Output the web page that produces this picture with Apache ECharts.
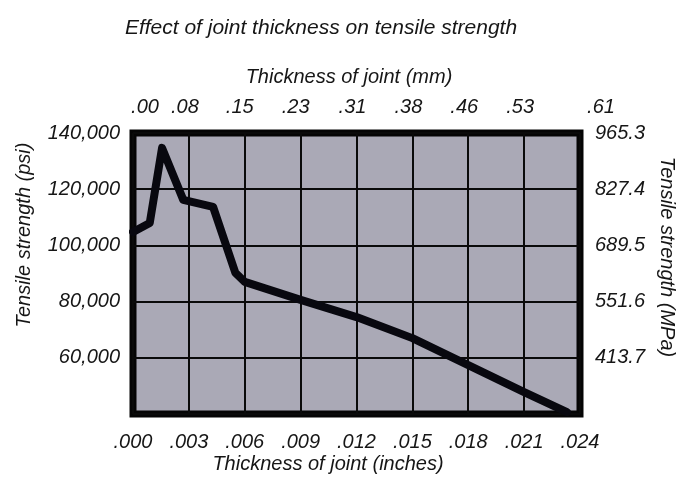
<!DOCTYPE html>
<html>
<head>
<meta charset="utf-8">
<script src="https://cdn.jsdelivr.net/npm/echarts@6/dist/echarts.min.js"></script>
<style>
html,body{margin:0;padding:0;background:#fff;}
#chart{width:682px;height:488px;}
</style>
</head>
<body>
<div id="chart"></div>
<script>
// ---- data ----
var thicknessIn = [0, 0.0009, 0.00156, 0.0027, 0.0043, 0.0055, 0.0060, 0.0090, 0.0120, 0.0150, 0.0180, 0.0210, 0.0233];
var strengthPsi = [104800, 108000, 134700, 116200, 113700, 90200, 87000, 80600, 74500, 67000, 57400, 47800, 40700];
var inchLabels = ['.000', '.003', '.006', '.009', '.012', '.015', '.018', '.021', '.024'];
var mmLabels = ['.00', '.08', '.15', '.23', '.31', '.38', '.46', '.53', '.61'];
var psiLabels = ['', '60,000', '80,000', '100,000', '120,000', '140,000'];
var mpaLabels = ['', '413.7', '551.6', '689.5', '827.4', '965.3'];
var titleText = 'Effect of joint thickness on tensile strength';
var topAxisName = 'Thickness of joint (mm)';
var bottomAxisName = 'Thickness of joint (inches)';
var leftAxisName = 'Tensile strength (psi)';
var rightAxisName = 'Tensile strength (MPa)';

var seriesData = thicknessIn.map(function (x, i) { return [x, strengthPsi[i]]; });

// ---- styles ----
var FONT = 'Liberation Sans';
var TXT = '#161616';
var xStep = 0.003, yMin = 40000, yStep = 20000;
var topLabelShift = [12, -4, -5, -5, -4, -4, -4, -4, 21]; // px horizontal nudge per top label

var topRich = {};
topLabelShift.forEach(function (s, k) {
  topRich['p' + k] = {
    padding: s >= 0 ? [0, 0, 0, 2 * s] : [0, -2 * s, 0, 0],
    fontStyle: 'italic', fontFamily: FONT, fontSize: 20, color: TXT
  };
});

var chart = echarts.init(document.getElementById('chart'), null, { renderer: 'canvas' });
chart.setOption({
  animation: false,
  backgroundColor: '#ffffff',
  grid: {
    left: 133, right: 102, top: 133, bottom: 74,
    show: true, backgroundColor: '#aaa9b6', borderColor: '#050505', borderWidth: 7
  },
  xAxis: [{
    type: 'value', position: 'bottom', min: 0, max: 0.024, interval: xStep,
    axisLine: { show: false }, axisTick: { show: false },
    splitLine: { show: true, lineStyle: { color: '#0a0a0a', width: 2 } },
    axisLabel: {
      margin: 18, fontStyle: 'italic', fontFamily: FONT, fontSize: 20, color: TXT,
      formatter: function (v) { return inchLabels[Math.round(v / xStep)]; }
    }
  }, {
    type: 'value', position: 'top', min: 0, max: 0.024, interval: xStep,
    axisLine: { show: false }, axisTick: { show: false }, splitLine: { show: false },
    axisLabel: {
      margin: 16, rich: topRich,
      fontStyle: 'italic', fontFamily: FONT, fontSize: 20, color: TXT,
      formatter: function (v) { var k = Math.round(v / xStep); return '{p' + k + '|' + mmLabels[k] + '}'; }
    }
  }],
  yAxis: [{
    type: 'value', position: 'left', min: yMin, max: 140000, interval: yStep,
    axisLine: { show: false }, axisTick: { show: false },
    splitLine: { show: true, lineStyle: { color: '#0a0a0a', width: 2 } },
    axisLabel: {
      margin: 13, fontStyle: 'italic', fontFamily: FONT, fontSize: 20, color: TXT,
      formatter: function (v) { return psiLabels[Math.round((v - yMin) / yStep)]; }
    }
  }, {
    type: 'value', position: 'right', min: yMin, max: 140000, interval: yStep,
    axisLine: { show: false }, axisTick: { show: false }, splitLine: { show: false },
    axisLabel: {
      margin: 15, fontStyle: 'italic', fontFamily: FONT, fontSize: 20, color: TXT,
      formatter: function (v) { return mpaLabels[Math.round((v - yMin) / yStep)]; }
    }
  }],
  series: [{
    type: 'line', xAxisIndex: 0, yAxisIndex: 0,
    data: seriesData, symbol: 'none', smooth: false,
    lineStyle: { color: '#08080f', width: 8, join: 'round', cap: 'round' },
    clip: false
  }],
  graphic: [
    { type: 'text', x: 321, y: 28, style: { text: titleText, font: 'italic 21px "Liberation Sans"', fill: TXT, textAlign: 'center', textVerticalAlign: 'middle' } },
    { type: 'text', x: 349, y: 77, style: { text: topAxisName, font: 'italic 20px "Liberation Sans"', fill: TXT, textAlign: 'center', textVerticalAlign: 'middle' } },
    { type: 'text', x: 328, y: 464, style: { text: bottomAxisName, font: 'italic 20px "Liberation Sans"', fill: TXT, textAlign: 'center', textVerticalAlign: 'middle' } },
    { type: 'text', x: 24, y: 235, rotation: Math.PI / 2, style: { text: leftAxisName, font: 'italic 20px "Liberation Sans"', fill: TXT, textAlign: 'center', textVerticalAlign: 'middle' } },
    { type: 'text', x: 667, y: 257, rotation: -Math.PI / 2, style: { text: rightAxisName, font: 'italic 20px "Liberation Sans"', fill: TXT, textAlign: 'center', textVerticalAlign: 'middle' } }
  ]
});
</script>
</body>
</html>
